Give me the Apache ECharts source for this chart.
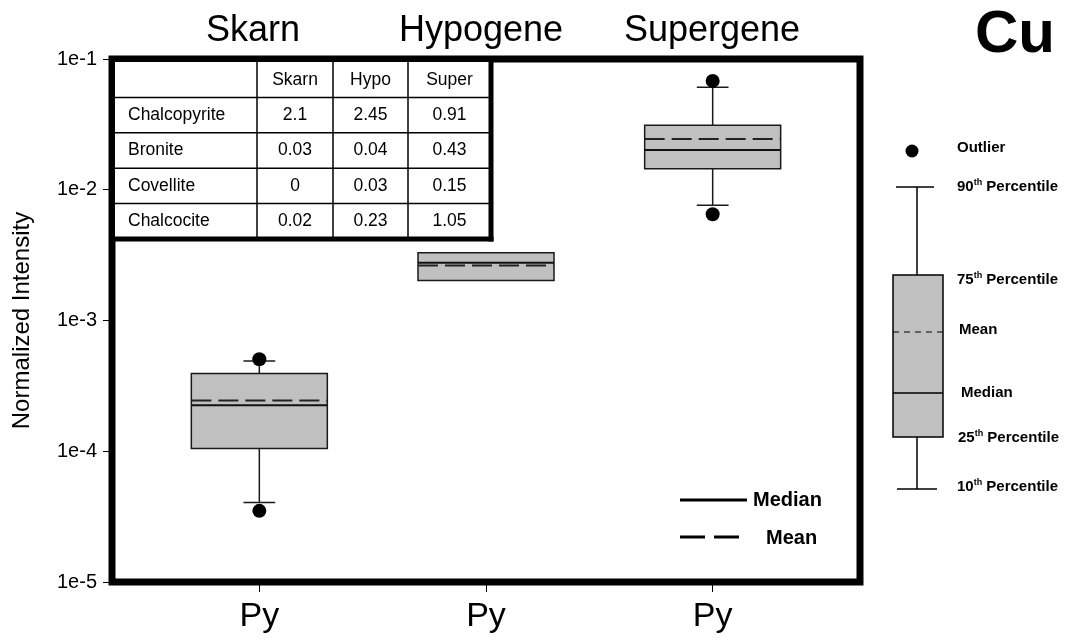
<!DOCTYPE html>
<html>
<head>
<meta charset="utf-8">
<script src="https://cdn.jsdelivr.net/npm/echarts@6/dist/echarts.min.js"></script>
<style>
  html, body { margin: 0; padding: 0; background: #fff; }
  #main { width: 1069px; height: 644px; }
</style>
</head>
<body>
<div id="main"></div>
<script>
// deposit types along x (positions 1..3), each labelled "Py"
const groups = ['Skarn', 'Hypogene', 'Supergene'];
const xPos = [1, 2, 3];
const xLabels = ['Py', 'Py', 'Py'];

// box statistics per group: 10th, 25th, median, 75th, 90th percentile and mean
const p10 = [4.05e-5, 2.02e-3, 7.6e-3];
const p25 = [1.05e-4, 2.02e-3, 1.45e-2];
const median = [2.25e-4, 2.77e-3, 2.01e-2];
const p75 = [3.94e-4, 3.3e-3, 3.11e-2];
const p90 = [4.9e-4, 3.3e-3, 6.07e-2];
const mean = [2.44e-4, 2.64e-3, 2.44e-2];

// outliers [x, value]
const outliers = [[1, 5.05e-4], [1, 3.5e-5], [3, 6.8e-2], [3, 6.5e-3]];

// y ticks
const yTicks = [1e-5, 1e-4, 1e-3, 1e-2, 1e-1];
const yTickLabels = ['1e-5', '1e-4', '1e-3', '1e-2', '1e-1'];

// inset table
const tableCols = ['Skarn', 'Hypo', 'Super'];
const minerals = ['Chalcopyrite', 'Bronite', 'Covellite', 'Chalcocite'];
const skarnVals = ['2.1', '0.03', '0', '0.02'];
const hypoVals = ['2.45', '0.04', '0.03', '0.23'];
const superVals = ['0.91', '0.43', '0.15', '1.05'];

const FONT = '"Liberation Sans", Arial, sans-serif';
const chart = echarts.init(document.getElementById('main'));

const boxData = xPos.map((x, i) => [x, p10[i], p25[i], median[i], p75[i], p90[i], mean[i]]);

function renderBox(params, api) {
  const x = api.value(0);
  const v10 = api.value(1), v25 = api.value(2), med = api.value(3);
  const v75 = api.value(4), v90 = api.value(5), avg = api.value(6);
  const boxW = 0.3, capW = 0.07;
  const pt = (dx, v) => api.coord([x + dx, v]);
  const stroke = { stroke: '#1a1a1a', lineWidth: 1.5 };
  const line = (a, b, style) => ({
    type: 'line',
    shape: { x1: a[0], y1: a[1], x2: b[0], y2: b[1] },
    style: Object.assign({}, stroke, style || {})
  });
  const kids = [];
  if (v90 > v75) {
    kids.push(line(pt(0, v75), pt(0, v90)));
    kids.push(line(pt(-capW, v90), pt(capW, v90)));
  }
  if (v10 < v25) {
    kids.push(line(pt(0, v25), pt(0, v10)));
    kids.push(line(pt(-capW, v10), pt(capW, v10)));
  }
  const a = pt(-boxW, v75), b = pt(boxW, v25);
  kids.push({
    type: 'rect',
    shape: { x: a[0], y: a[1], width: b[0] - a[0], height: b[1] - a[1] },
    style: { fill: '#c0c0c0', stroke: '#1a1a1a', lineWidth: 1.5 }
  });
  kids.push(line(pt(-boxW, med), pt(boxW, med), { stroke: '#111', lineWidth: 2 }));
  kids.push(line(pt(-boxW, avg), pt(boxW, avg), { stroke: '#222', lineWidth: 2, lineDash: [20, 7] }));
  return { type: 'group', children: kids };
}

// inset table graphic (sits in the top-left corner of the frame)
function buildTable() {
  const x0 = 115, y0 = 62, x1 = 491, y1 = 239;
  const colX = [257, 333, 408];
  const rowH = (y1 - y0) / 5;
  const els = [];
  els.push({ type: 'rect', shape: { x: x0, y: y0, width: x1 - x0, height: y1 - y0 }, style: { fill: '#fff' } });
  for (let r = 1; r < 5; r++) {
    els.push({ type: 'line', shape: { x1: x0, y1: y0 + r * rowH, x2: x1, y2: y0 + r * rowH }, style: { stroke: '#000', lineWidth: 1.5 } });
  }
  colX.forEach(cx => {
    els.push({ type: 'line', shape: { x1: cx, y1: y0, x2: cx, y2: y1 }, style: { stroke: '#000', lineWidth: 1.5 } });
  });
  els.push({ type: 'line', shape: { x1: x1, y1: 56, x2: x1, y2: y1 + 2.5 }, style: { stroke: '#000', lineWidth: 5 } });
  els.push({ type: 'line', shape: { x1: 110, y1: y1, x2: x1 + 2.5, y2: y1 }, style: { stroke: '#000', lineWidth: 5 } });
  const centers = [(colX[0] + colX[1]) / 2, (colX[1] + colX[2]) / 2, (colX[2] + x1) / 2];
  const txt = (x, y, s, align) => ({
    type: 'text', x: x, y: y,
    style: { text: s, font: '17.5px ' + FONT, fill: '#000', align: align, verticalAlign: 'middle' }
  });
  tableCols.forEach((c, j) => els.push(txt(centers[j], y0 + rowH / 2, c, 'center')));
  const cols = [skarnVals, hypoVals, superVals];
  minerals.forEach((m, i) => {
    const cy = y0 + (i + 1.5) * rowH;
    els.push(txt(128, cy, m, 'left'));
    cols.forEach((vals, j) => els.push(txt(centers[j], cy, vals[i], 'center')));
  });
  return { type: 'group', z: 100, children: els };
}

// key box on the right
function buildKey() {
  const k = { stroke: '#000', lineWidth: 1.5 };
  const lab = (x, y, parts) => ({
    type: 'text', x: x, y: y,
    style: {
      text: parts, verticalAlign: 'middle', fill: '#000',
      rich: {
        n: { fontSize: 15, fontWeight: 'bold', fontFamily: FONT, lineHeight: 17 },
        s: { fontSize: 9, fontWeight: 'bold', fontFamily: FONT, lineHeight: 17, verticalAlign: 'top', padding: [0, 0, 4, 0] }
      }
    }
  });
  return {
    type: 'group', z: 100,
    children: [
      { type: 'circle', shape: { cx: 912, cy: 151, r: 6.5 }, style: { fill: '#000' } },
      { type: 'line', shape: { x1: 896, y1: 187, x2: 934, y2: 187 }, style: k },
      { type: 'line', shape: { x1: 917, y1: 187, x2: 917, y2: 275 }, style: k },
      { type: 'rect', shape: { x: 893, y: 275, width: 50, height: 162 }, style: { fill: '#c0c0c0', stroke: '#000', lineWidth: 1.5 } },
      { type: 'line', shape: { x1: 893, y1: 332, x2: 943, y2: 332 }, style: { stroke: '#000', lineWidth: 1.2, lineDash: [6, 5] } },
      { type: 'line', shape: { x1: 893, y1: 393, x2: 943, y2: 393 }, style: k },
      { type: 'line', shape: { x1: 917, y1: 437, x2: 917, y2: 489 }, style: k },
      { type: 'line', shape: { x1: 897, y1: 489, x2: 937, y2: 489 }, style: k },
      lab(957, 148, '{n|Outlier}'),
      lab(957, 187, '{n|90}{s|th}{n| Percentile}'),
      lab(957, 280, '{n|75}{s|th}{n| Percentile}'),
      lab(959, 330, '{n|Mean}'),
      lab(961, 393, '{n|Median}'),
      lab(958, 438, '{n|25}{s|th}{n| Percentile}'),
      lab(957, 487, '{n|10}{s|th}{n| Percentile}'),
      // median / mean line key inside the plot
      { type: 'line', shape: { x1: 680, y1: 500, x2: 747, y2: 500 }, style: { stroke: '#000', lineWidth: 3 } },
      { type: 'line', shape: { x1: 680, y1: 537, x2: 739, y2: 537 }, style: { stroke: '#000', lineWidth: 3, lineDash: [25, 9] } },
      { type: 'text', x: 753, y: 500, style: { text: 'Median', font: 'bold 20px ' + FONT, fill: '#000', verticalAlign: 'middle' } },
      { type: 'text', x: 766, y: 538, style: { text: 'Mean', font: 'bold 20px ' + FONT, fill: '#000', verticalAlign: 'middle' } }
    ]
  };
}

const titleX = [253, 481, 712];
const titles = groups.map((g, i) => ({
  type: 'text', x: titleX[i], y: 31,
  style: { text: g, font: '36px ' + FONT, fill: '#000', align: 'center', verticalAlign: 'middle' }
}));

chart.setOption({
  animation: false,
  textStyle: { fontFamily: FONT },
  grid: {
    left: 112, right: 209, top: 59, bottom: 62,
    outerBoundsMode: 'none',
    containLabel: false,
    show: true, borderWidth: 7, borderColor: '#000', backgroundColor: 'transparent'
  },
  xAxis: {
    type: 'value', min: 0.35, max: 3.65,
    axisLine: { show: false },
    splitLine: { show: false },
    axisTick: { show: true, length: 10, customValues: xPos, lineStyle: { color: '#000', width: 1 } },
    axisLabel: {
      customValues: xPos, margin: 18, fontSize: 34, color: '#000',
      formatter: v => xLabels[xPos.indexOf(Math.round(v))]
    }
  },
  yAxis: {
    type: 'log', logBase: 10, min: 1e-5, max: 1e-1,
    name: 'Normalized Intensity', nameLocation: 'middle', nameGap: 78,
    nameTextStyle: { fontSize: 24, color: '#000' },
    axisLine: { show: false },
    splitLine: { show: false },
    minorTick: { show: false },
    axisTick: { show: true, length: 9, lineStyle: { color: '#000', width: 1 } },
    axisLabel: {
      margin: 15, fontSize: 20, color: '#000',
      formatter: v => {
        const i = yTicks.findIndex(t => Math.abs(Math.log10(t) - Math.log10(v)) < 0.01);
        return i >= 0 ? yTickLabels[i] : '';
      }
    }
  },
  graphic: [
    buildTable(),
    buildKey(),
    ...titles,
    { type: 'text', x: 1015, y: 35, style: { text: 'Cu', font: 'bold 60px ' + FONT, fill: '#000', align: 'center', verticalAlign: 'middle' } }
  ],
  series: [
    {
      type: 'custom',
      renderItem: renderBox,
      encode: { x: 0, y: [1, 2, 3, 4, 5, 6] },
      data: boxData,
      z: 3
    },
    {
      type: 'scatter',
      data: outliers,
      symbol: 'circle',
      symbolSize: 14,
      itemStyle: { color: '#000', opacity: 1 },
      z: 4
    }
  ]
});
</script>
</body>
</html>
